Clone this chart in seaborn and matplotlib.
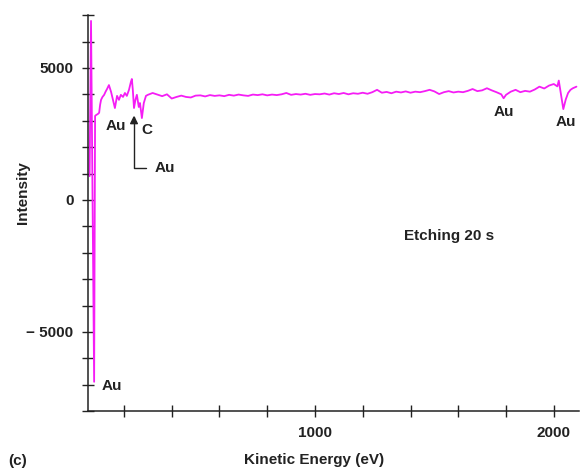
import numpy as np
import pandas as pd
import matplotlib
matplotlib.use("Agg")
import matplotlib.pyplot as plt
from matplotlib.ticker import FixedLocator, FuncFormatter
import seaborn as sns

# spectrum (kinetic energy in eV, intensity in counts)
energy = [56, 62, 75, 79, 84, 90, 96, 100, 104, 110, 117, 123, 129, 137, 146,
          154, 162, 171, 179, 187, 196, 204, 212, 221, 229, 233, 237, 242, 248,
          254, 262, 267, 275, 283, 292,
          300, 320, 340, 360, 380, 400, 420, 440, 460, 480, 500, 520, 540, 560,
          580, 600, 620, 640, 660, 680, 700, 720, 740, 760, 780, 800, 820, 840,
          860, 880, 900, 920, 940, 960, 980, 1000, 1020, 1040, 1060, 1080, 1100,
          1120, 1140, 1160, 1180, 1200, 1220, 1240, 1260, 1280, 1300, 1320, 1340,
          1360, 1380, 1400, 1420, 1440, 1460, 1480, 1500, 1520, 1540, 1560, 1580,
          1600, 1620, 1640, 1660, 1680, 1700, 1720, 1740, 1760, 1780, 1790, 1800,
          1820, 1840, 1860, 1880, 1900, 1920, 1940, 1960, 1980, 2000, 2015, 2021,
          2030, 2040, 2050, 2060, 2070, 2080, 2095]
intensity = [900, 6780, -6890, 3180, 3220, 3250, 3300, 3600, 3790, 3900, 3980,
             4100, 4200, 4350, 4090, 3790, 3480, 3940, 3790, 3980, 3900, 4050,
             3940, 4170, 4470, 4580, 4170, 3480, 3790, 3980, 3520, 3670, 3100,
             3670, 3940,
             3980, 4050, 3990, 3930, 4000, 3840, 3900, 3950, 3900, 3880, 3950,
             3960, 3920, 3970, 3940, 3960, 3930, 3980, 3950, 3990, 3960, 3940,
             3990, 3970, 4000, 3960, 3990, 3970, 4000, 4050, 3980, 4010, 3990,
             4020, 3980, 4010, 4000, 4030, 3990, 4040, 4010, 4050, 4000, 4040,
             4020, 4060, 4020, 4080, 4170, 4060, 4090, 4040, 4100, 4070, 4110,
             4060, 4100, 4080, 4120, 4170, 4110, 4010, 4080, 4120, 4070, 4100,
             4080, 4130, 4200, 4120, 4150, 4230, 4150, 4080, 4000, 3850, 3980,
             4100, 4170, 4080, 4130, 4100, 4180, 4290, 4220, 4330, 4390, 4300,
             4520, 4000, 3440, 3800, 4050, 4170, 4230, 4290]

x_ticks = [200, 400, 600, 800, 1000, 1200, 1400, 1600, 1800, 2000]
x_labels = {1000: "1000", 2000: "2000"}
y_ticks = list(range(-8000, 7001, 1000))
y_labels = {5000: "5000", 0: "0", -5000: "\u2212 5000"}

df = pd.DataFrame({"energy": energy, "intensity": intensity})

sns.set_style("ticks")
plt.rcParams["font.family"] = ["Liberation Sans", "DejaVu Sans"]
plt.rcParams["font.weight"] = "bold"
ink = "#222222"

fig = plt.figure(figsize=(5.8, 4.72), dpi=100)
ax = fig.add_axes([0.152, 0.129, 0.846, 0.839])

sns.lineplot(data=df, x="energy", y="intensity", ax=ax, color="#f51df5",
             lw=1.3, estimator=None, sort=False)

ax.set_xlim(50, 2105)
ax.set_ylim(-8000, 7000)
ax.xaxis.set_major_locator(FixedLocator(x_ticks))
ax.yaxis.set_major_locator(FixedLocator(y_ticks))
ax.xaxis.set_major_formatter(FuncFormatter(lambda v, p: x_labels.get(int(round(v)), "")))
ax.yaxis.set_major_formatter(FuncFormatter(lambda v, p: y_labels.get(int(round(v)), "")))
ax.tick_params(direction="inout", length=9, width=1, colors=ink,
               labelsize=11, pad=6)
for s in ("top", "right"):
    ax.spines[s].set_visible(False)
for s in ("left", "bottom"):
    ax.spines[s].set_color(ink)
    ax.spines[s].set_linewidth(1.1)

ax.set_xlabel("Kinetic Energy (eV)", fontsize=11, fontweight="bold", color=ink)
ax.set_ylabel("Intensity", fontsize=11, fontweight="bold", color=ink)
ax.xaxis.set_label_coords(0.46, -0.105)
ax.yaxis.set_label_coords(-0.118, 0.553)

txt = dict(fontsize=11, fontweight="bold", color=ink, ha="center", va="center")
ax.text(167, 2800, "Au", **txt)
ax.text(296, 2650, "C", **txt)
ax.text(150, -7050, "Au", **txt)
ax.text(1792, 3330, "Au", **txt)
ax.text(2050, 2950, "Au", **txt)
ax.text(1562, -1360, "Etching 20 s", **txt)
ax.annotate("Au", xy=(242, 3200), xytext=(330, 1200),
            fontsize=11, fontweight="bold", color=ink, ha="left", va="center",
            arrowprops=dict(arrowstyle="-|>", color=ink, lw=1,
                            connectionstyle="angle,angleA=180,angleB=90,rad=0",
                            shrinkA=4, shrinkB=0, mutation_scale=12))
fig.text(0.03, 0.023, "(c)", fontsize=11, fontweight="bold", color=ink,
         ha="center", va="center")

fig.savefig("out.png", dpi=100)
